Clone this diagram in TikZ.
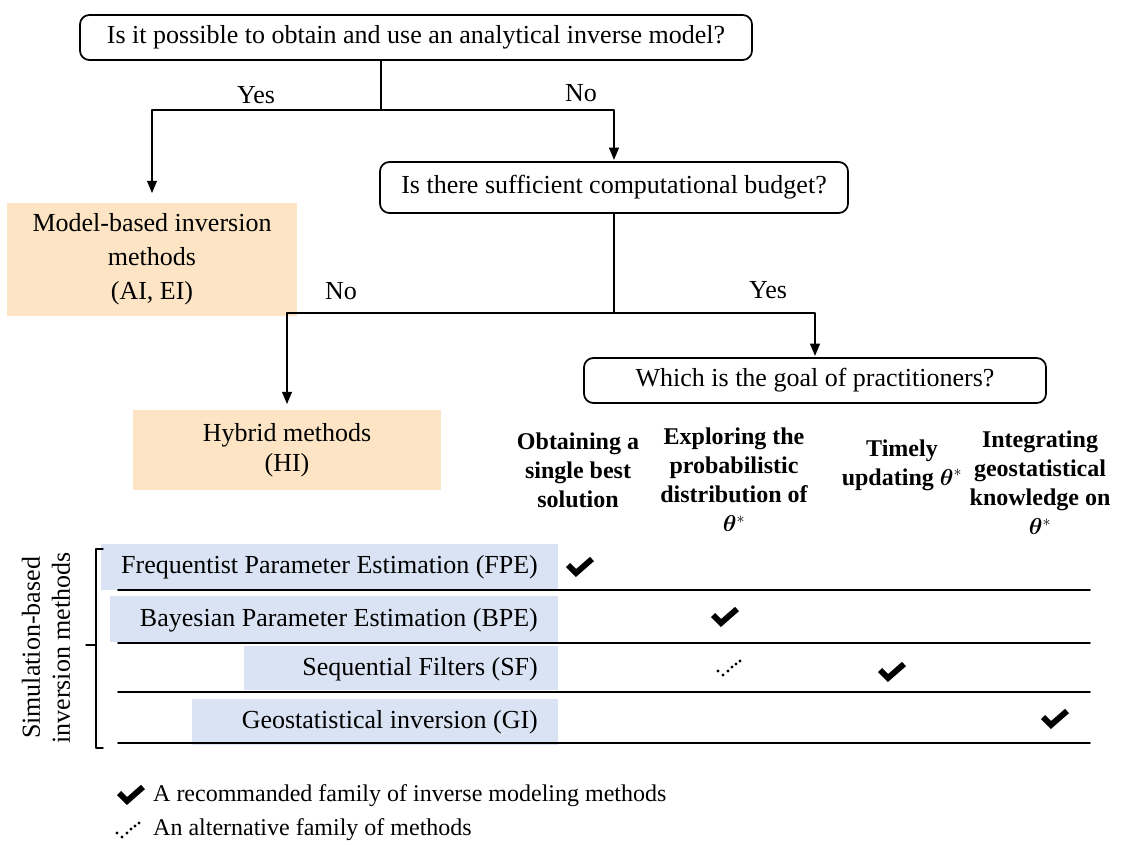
\documentclass[tikz,border=0pt]{standalone}
\usepackage{amsmath}
\usepackage{bm}
\usepackage{fontspec}
\setmainfont{Liberation Serif}
\usepackage{tikz}
\usetikzlibrary{arrows}
\definecolor{peach}{RGB}{252,228,196}
\definecolor{paleblue}{RGB}{218,227,243}
\newcommand{\figfont}{\fontsize{19.5}{24}\selectfont}
\newcommand{\headfont}{\fontsize{18}{21.75}\selectfont\bfseries}
\newcommand{\legfont}{\fontsize{18}{22}\selectfont}

\tikzset{
  question/.style={draw,rounded corners=7pt,line width=1.3pt,font=\figfont,inner sep=0pt},
  family/.style={fill=peach,align=center,inner sep=0pt},
  goal/.style={align=center,font=\headfont,inner sep=0pt},
  rowline/.style={line width=1.3pt},
  tickmark/.pic={\draw[line width=4.4pt,line cap=butt,line join=miter] (-12,-3) -- (-4,5) -- (12,-9);},
  dottick/.pic={\foreach \p in {(-11,3),(-6,7),(-1,3),(3,-1),(7,-4),(11,-7)} \fill \p circle (1.6);}
}

\begin{document}
\begin{tikzpicture}[line cap=round,line join=round,>=triangle 45,x=0.75pt,y=-0.75pt,line width=1.1pt]
\useasboundingbox (0,0) rectangle (1121,845);
\node[question,minimum width=672*0.75pt,minimum height=45*0.75pt] (q1) at (416,37.5) {Is it possible to obtain and use an analytical inverse model?};
\node[question,minimum width=468*0.75pt,minimum height=51*0.75pt] (q2) at (614,187.5) {Is there sufficient computational budget?};
\node[question,minimum width=462*0.75pt,minimum height=45*0.75pt] (q3) at (815,380.5) {Which is the goal of practitioners?};
\node[family,minimum width=290*0.75pt,minimum height=113*0.75pt,font=\fontsize{19.5}{25.5}\selectfont] (mbi) at (152,259.5) {Model-based inversion\\methods\\(AI, EI)};
\node[family,minimum width=308*0.75pt,minimum height=80*0.75pt,font=\fontsize{19.5}{22.5}\selectfont] (hyb) at (287,450) {Hybrid methods\\(HI)};

\coordinate (j1) at (381,110);
\coordinate (j2) at (614,313);
\draw (q1.south -| j1) -- (j1);
\draw[->,shorten >=7pt] (j1) -| (mbi.north);
\draw[->,shorten >=1pt] (j1) -| (q2.north);
\draw (q2.south) -- (j2);
\draw[->,shorten >=4pt] (j2) -| (hyb.north);
\draw[->,shorten >=1pt] (j2) -| (q3.north);
\node[font=\figfont] (yes1) at (256,95) {Yes};
\node[font=\figfont] (no1) at (581,93) {No};
\node[font=\figfont] (no2) at (341,291) {No};
\node[font=\figfont] (yes2) at (768,290) {Yes};

\node[goal] (g1) at (578,470) {Obtaining a\\single best\\solution};
\node[goal] (g2) at (734,480) {Exploring the\\probabilistic\\distribution of\\$\bm{\theta}^{*}$};
\node[goal] (g3) at (902,465) {Timely\\updating $\bm{\theta}^{*}$};
\node[goal] (g4) at (1040,483) {Integrating\\geostatistical\\knowledge on\\$\bm{\theta}^{*}$};

\fill[paleblue] (101,544) rectangle (558,590);
\fill[paleblue] (110,596) rectangle (558,642);
\fill[paleblue] (244,646) rectangle (558,690);
\fill[paleblue] (192,699) rectangle (558,745);
\draw[rowline] (118,590) -- (1090,590);
\draw[rowline] (118,643) -- (1090,643);
\draw[rowline] (118,692) -- (1090,692);
\draw[rowline] (118,743) -- (1090,743);
\node[anchor=east,font=\figfont] (fpe) at (543,567) {Frequentist Parameter Estimation (FPE)};
\node[anchor=east,font=\figfont] (bpe) at (543,620) {Bayesian Parameter Estimation (BPE)};
\node[anchor=east,font=\figfont] (sf) at (543,669) {Sequential Filters (SF)};
\node[anchor=east,font=\figfont] (gi) at (543,722) {Geostatistical inversion (GI)};

\pic at (580,568) {tickmark};
\pic at (725,618) {tickmark};
\pic at (729,668) {dottick};
\pic at (892,673) {tickmark};
\pic at (1055,720) {tickmark};

\draw (103,549) -- (96,549) -- (96,748) -- (103,748);
\draw (96,645) -- (86,645);
\node[rotate=90,align=center,font=\fontsize{19.5}{22.5}\selectfont] (sbi) at (46,648) {Simulation-based\\inversion methods};

\pic at (131,796) {tickmark};
\node[anchor=west,font=\legfont] (leg1) at (148,796) {A recommanded family of inverse modeling methods};
\pic at (128,830) {dottick};
\node[anchor=west,font=\legfont] (leg2) at (148,830) {An alternative family of methods};
\end{tikzpicture}
\end{document}
